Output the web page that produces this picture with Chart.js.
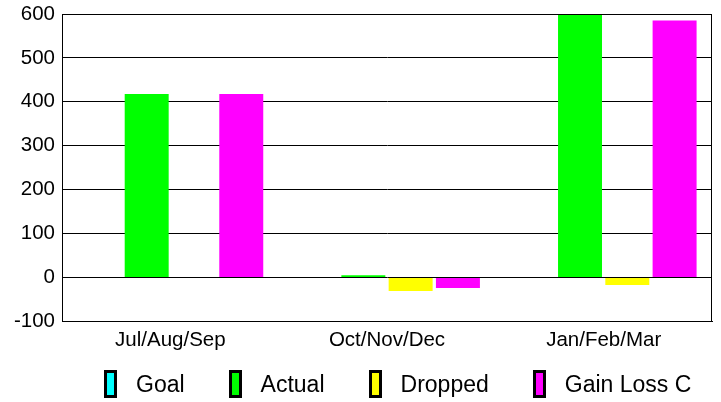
<!DOCTYPE html>
<html>
<head>
<meta charset="utf-8">
<script src="https://cdn.jsdelivr.net/npm/chart.js@4"></script>
<style>
    body { margin: 0; background: #fff; }
    #wrap { position: relative; width: 721px; height: 402px; }
    #legend {
        position: absolute; left: 104px; top: 370px;
        display: flex; align-items: center; gap: 44px;
        font-family: "Liberation Sans", Arial, sans-serif; font-size: 23px; color: #000;
    }
    .item { display: flex; align-items: center; gap: 19px; }
    .box { width: 7px; height: 22px; border: 3px solid #000; }
</style>
</head>
<body>
<div id="wrap">
    <canvas id="chart"></canvas>
    <div id="legend"></div>
</div>
<script>
// Quarterly chart data
const quarters = ['Jul/Aug/Sep', 'Oct/Nov/Dec', 'Jan/Feb/Mar'];
const goal = [0, 0, 0];
const actual = [418, 5, 600];
const dropped = [0, -31, -17];
const gainLoss = [418, -24, 585];
const yTicks = [-100, 0, 100, 200, 300, 400, 500, 600];

const seriesNames = ['Goal', 'Actual', 'Dropped', 'Gain Loss C'];
const seriesColors = ['#00ffff', '#00ff00', '#ffff00', '#ff00ff'];
const seriesData = [goal, actual, dropped, gainLoss];

const font = { family: '"Liberation Sans", Arial, sans-serif', size: 20.5 };

// Frame around the plot area
const framePlugin = {
    id: 'frame',
    afterDraw(chart) {
        const { ctx, chartArea: a } = chart;
        ctx.save();
        ctx.strokeStyle = '#000';
        ctx.lineWidth = 1;
        ctx.strokeRect(Math.round(a.left) + 0.5, Math.round(a.top) + 0.5,
            Math.round(a.right - a.left) - 1, Math.round(a.bottom - a.top));
        ctx.restore();
    }
};

new Chart(document.getElementById('chart'), {
    type: 'bar',
    data: {
        labels: quarters,
        datasets: seriesNames.map((name, i) => ({
            label: name,
            data: seriesData[i],
            backgroundColor: seriesColors[i],
            borderWidth: 0,
            categoryPercentage: 0.873,
            barPercentage: 0.93
        }))
    },
    options: {
        responsive: true,
        maintainAspectRatio: false,
        animation: false,
        layout: {
            padding: { left: 0, top: 14, right: 9, bottom: 42 }
        },
        plugins: {
            legend: { display: false },
            tooltip: { enabled: false }
        },
        scales: {
            x: {
                grid: { display: false, drawTicks: false },
                border: { display: true, color: '#000' },
                ticks: { color: '#000', font: font, padding: 7, maxRotation: 0 }
            },
            y: {
                min: yTicks[0],
                max: yTicks[yTicks.length - 1],
                afterFit: (scale) => {
                    scale.width = 62;
                    scale.paddingTop = 0;
                    scale.paddingBottom = 0;
                },
                afterBuildTicks: (scale) => { scale.ticks = yTicks.map(v => ({ value: v })); },
                grid: { color: '#000', lineWidth: 1, drawTicks: false },
                border: { display: true, color: '#000' },
                ticks: { color: '#000', font: font, padding: 7 }
            }
        }
    },
    plugins: [framePlugin]
});

// Legend below the chart
document.getElementById('legend').innerHTML = seriesNames.map((name, i) => `
    <div class="item">
        <div class="box" style="background:${seriesColors[i]}"></div>
        <span>${name}</span>
    </div>
`).join('');
</script>
</body>
</html>
